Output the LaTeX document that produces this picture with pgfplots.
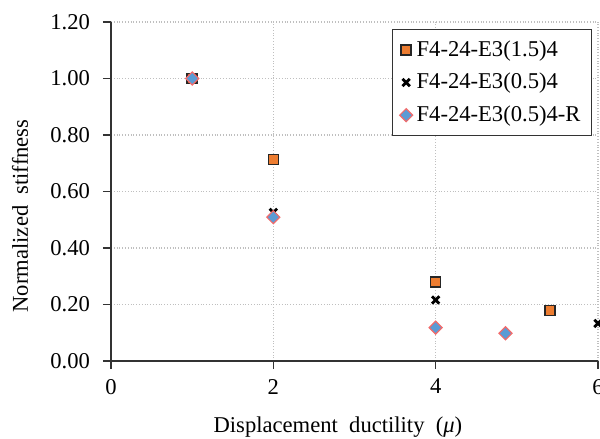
\documentclass[border=0pt]{standalone}
\usepackage{fontspec}
\setmainfont{Liberation Serif}
\usepackage{pgfplots}
\pgfplotsset{compat=1.18}
\definecolor{sqorange}{HTML}{ED7D31}
\definecolor{dblue}{HTML}{5B9BD5}
\definecolor{dred}{HTML}{F26B6B}
\begin{document}
\begin{tikzpicture}
\begin{axis}[
  at={(0,0)}, anchor=south west,
  scale only axis, width=243.5pt, height=169.5pt,
  xmin=0, xmax=6, ymin=0, ymax=1.2,
  xtick={0,2,4,6}, ytick={0,0.2,0.4,0.6,0.8,1.0,1.2},
  axis x line*=bottom, axis y line*=left,
  axis line style={black!80, line width=0.75pt},
  tick align=outside, major tick length=4pt,
  tick style={black!80, line width=0.75pt},
  grid=major, major grid style={black!25, densely dotted, line width=0.6pt},
  /pgf/number format/assume math mode=true,
  tick label style={font=\fontsize{11.3}{13}\selectfont},
  yticklabel style={xshift=-3pt, /pgf/number format/.cd, fixed, fixed zerofill, precision=2},
  xticklabel style={yshift=-1.5pt},
  xlabel={Displacement\ \ ductility\ \ (\textit{μ})},
  ylabel={Normalized\ \ stiffness},
  label style={font=\fontsize{11.3}{13}\selectfont},
  xlabel style={at={(axis description cs:0.466,-0.195)}, anchor=center},
  ylabel style={at={(axis description cs:-0.187,0.428)}, anchor=center},
  legend style={at={(1,1)}, anchor=north east, xshift=-3pt, yshift=-3.5pt,
    draw=black!80, line width=0.5pt, font=\fontsize{11.3}{13}\selectfont,
    row sep=3pt, inner xsep=3.5pt, inner ysep=3.5pt},
  legend cell align=left,
]
\addplot[only marks, mark=square*, mark size=2.5pt,
  mark options={fill=sqorange, draw=black!85, line width=0.7pt}]
  coordinates {(1,1.00) (2,0.714) (4,0.280) (5.41,0.179)};
\addlegendentry{F4-24-E3(1.5)4}
\addplot[only marks, mark=x, mark size=2.6pt,
  mark options={draw=black, line width=1.4pt}]
  coordinates {(1,1.00) (2,0.526) (4,0.216) (6,0.133)};
\addlegendentry{F4-24-E3(0.5)4}
\addplot[only marks, mark=square*, mark size=2.3pt,
  mark options={rotate=45, fill=dblue, draw=dred, line width=0.6pt}]
  coordinates {(1,1.00) (2,0.509) (4,0.118) (4.86,0.098)};
\addlegendentry{F4-24-E3(0.5)4-R}
\end{axis}
\pgfresetboundingbox
\path[use as bounding box] (-55.5pt,-39pt) rectangle (244.5pt,180.5pt);
\end{tikzpicture}
\end{document}
